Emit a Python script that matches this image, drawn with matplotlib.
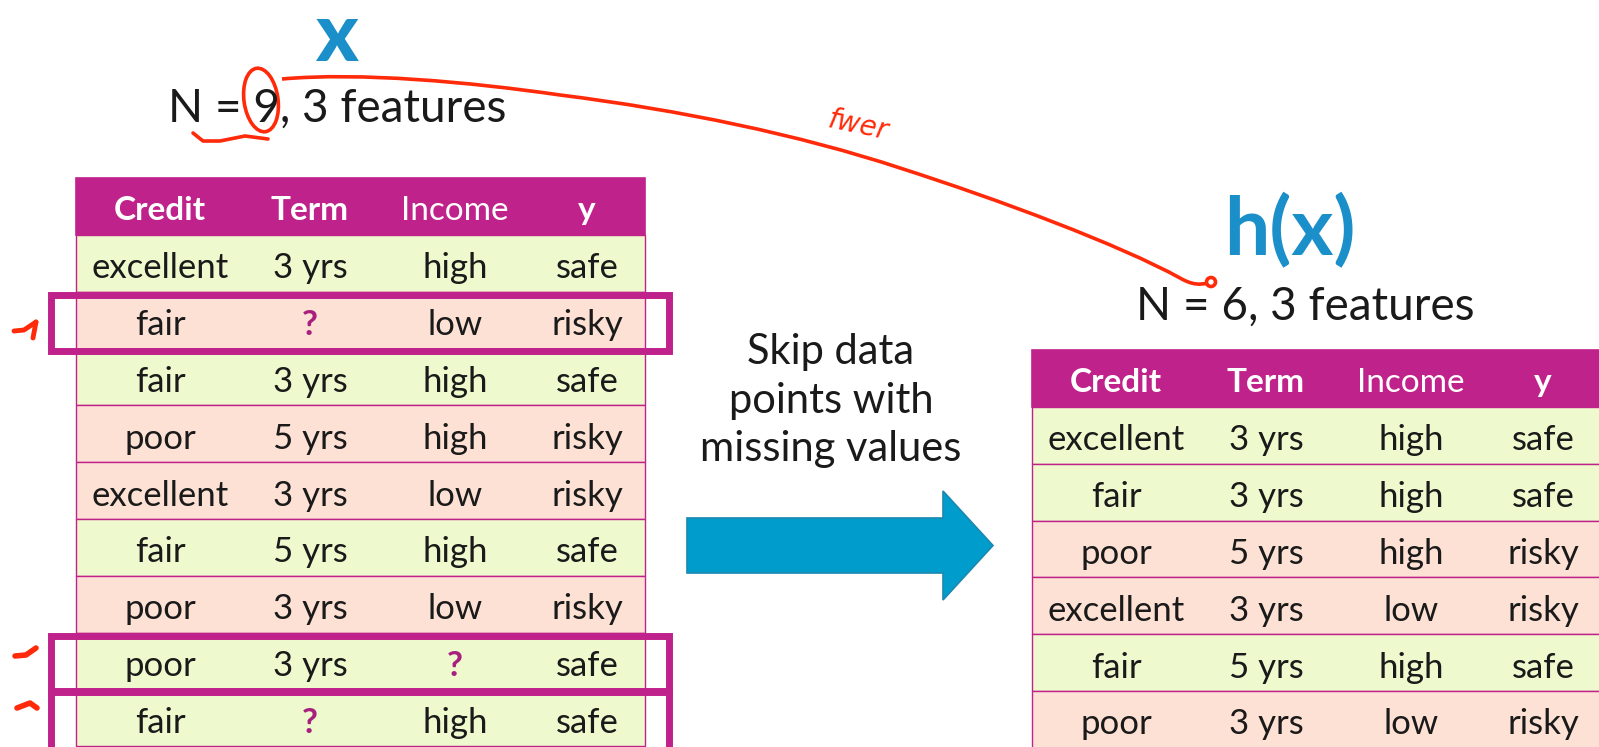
import matplotlib.pyplot as plt
import matplotlib.patches as patches
from matplotlib.path import Path
import pandas as pd

plt.rcParams['font.family'] = ['Lato', 'DejaVu Sans']

# Table contents (9 loans, some with missing values)
columns = ["Credit", "Term", "Income", "y"]
credit = ["excellent", "fair", "fair", "poor", "excellent", "fair", "poor", "poor", "fair"]
term = ["3 yrs", "?", "3 yrs", "5 yrs", "3 yrs", "5 yrs", "3 yrs", "3 yrs", "?"]
income = ["high", "low", "high", "high", "low", "high", "low", "?", "high"]
label = ["safe", "risky", "safe", "risky", "risky", "safe", "risky", "safe", "safe"]

skip_text = ["Skip data", "points with", "missing values"]
n_features = 3

# Colours / layout (pixel units, y pointing down)
MAGENTA = '#BF228A'
QMARK = '#A8207E'
GREEN = '#EEFACD'
PINK = '#FDE1D4'
BLUE = '#1A8FC9'
ARROW_BLUE = '#009CCB'
RED = '#FF2A0A'
TEXT = '#1A1A1A'

COL_OFFSETS = [84, 234, 379, 511]
HEADER_WEIGHTS = ['bold', 'bold', 'normal', 'bold']
TABLE_W = 569
HEADER_H = 57
ROW_H = 56.8
TEXT_SHIFT = 5  # Lato's 'center' sits a bit high compared with the slide


def draw_table(ax, df, x0, y0):
    """Draws a slide style table with a magenta header, rows coloured by label."""
    ax.add_patch(patches.Rectangle((x0, y0), TABLE_W, HEADER_H, facecolor=MAGENTA,
                                   edgecolor=MAGENTA, lw=1.2))
    for c, name in enumerate(df.columns):
        ax.text(x0 + COL_OFFSETS[c], y0 + HEADER_H / 2 + 4, name, color='white', fontsize=24,
                fontweight=HEADER_WEIGHTS[c], ha='center', va='center')
    for r in range(len(df)):
        top = y0 + HEADER_H + r * ROW_H
        fill = GREEN if df.iloc[r]['y'] == 'safe' else PINK
        ax.add_patch(patches.Rectangle((x0, top), TABLE_W, ROW_H, facecolor=fill,
                                       edgecolor=MAGENTA, lw=1.0))
        for c, name in enumerate(df.columns):
            val = df.iloc[r][name]
            if val == '?':
                color, weight = QMARK, 'bold'
            else:
                color, weight = TEXT, 'normal'
            ax.text(x0 + COL_OFFSETS[c], top + ROW_H / 2 + TEXT_SHIFT, val, color=color,
                    fontsize=25, fontweight=weight, ha='center', va='center')


full = pd.DataFrame({"Credit": credit, "Term": term, "Income": income, "y": label})
missing = full.isin(["?"]).any(axis=1)
clean = full[~missing].reset_index(drop=True)

fig = plt.figure(figsize=(15.99, 7.47), dpi=100)
ax = fig.add_axes([0, 0, 1, 1])
ax.set_xlim(0, 1599)
ax.set_ylim(747, 0)
ax.axis('off')

# left: all data
left_x, left_y = 76, 178
ax.text(336, 61, "x", color=BLUE, fontsize=58, fontweight='black', ha='center', va='baseline')
ax.text(337, 109, "N = %d, %d features" % (len(full), n_features), fontsize=33,
        color=TEXT, ha='center', va='center')
draw_table(ax, full, left_x, left_y)

# boxes around rows with missing values
for r in [i for i, m in enumerate(missing) if m]:
    top = left_y + HEADER_H + r * ROW_H
    ax.add_patch(patches.Rectangle((50.5, top + 3), 618, ROW_H - 1, fill=False,
                                   edgecolor=MAGENTA, lw=5))

# right: cleaned data
right_x, right_y = 1032, 350
ax.text(1290, 231, "h(x)", color=BLUE, fontsize=58, fontweight='bold', ha='center', va='center')
ax.text(1305, 307, "N = %d, %d features" % (len(clean), n_features), fontsize=33,
        color=TEXT, ha='center', va='center')
draw_table(ax, clean, right_x, right_y)

# middle text and arrow
for i, line in enumerate(skip_text):
    ax.text(831, 352 + i * 48.5, line, fontsize=30, color=TEXT, ha='center', va='center')
arrow = patches.Polygon([(687, 518), (943, 518), (943, 491), (993, 545.5), (943, 600),
                         (943, 573), (687, 573)], closed=True, facecolor=ARROW_BLUE,
                        edgecolor='#1B88B0', lw=1.2)
ax.add_patch(arrow)

# red pen annotations
ax.add_patch(patches.Ellipse((261, 100), 34, 64, angle=-8, fill=False, edgecolor=RED, lw=2.6))
ax.plot([193, 203, 220, 245, 268], [133, 141, 141, 136, 139], color=RED, lw=2.6,
        solid_capstyle='round')
verts = [(282, 79), (360, 72), (470, 82), (560, 95),
         (680, 110), (800, 135), (900, 168),
         (1000, 200), (1120, 245), (1180, 278),
         (1192, 285), (1200, 285), (1208, 283)]
codes = [Path.MOVETO] + [Path.CURVE4] * 12
ax.add_patch(patches.PathPatch(Path(verts, codes), fill=False, edgecolor=RED, lw=2.6))
ax.add_patch(patches.Circle((1211, 282), 4.5, fill=False, edgecolor=RED, lw=2.6))
ax.text(858, 126, "fwer", color=RED, fontsize=20, style='italic', rotation=-12,
        ha='center', va='center', family='DejaVu Sans')

# little tick marks next to the boxed rows
ax.plot([14, 24, 36], [331, 330, 322], color=RED, lw=3.5, solid_capstyle='round')
ax.plot([36, 33], [322, 338], color=RED, lw=3.5, solid_capstyle='round')
ax.plot([15, 26, 36], [656, 655, 648], color=RED, lw=4, solid_capstyle='round')
ax.plot([17, 30, 37], [708, 703, 708], color=RED, lw=4, solid_capstyle='round')

fig.savefig('out.png', dpi=100)
